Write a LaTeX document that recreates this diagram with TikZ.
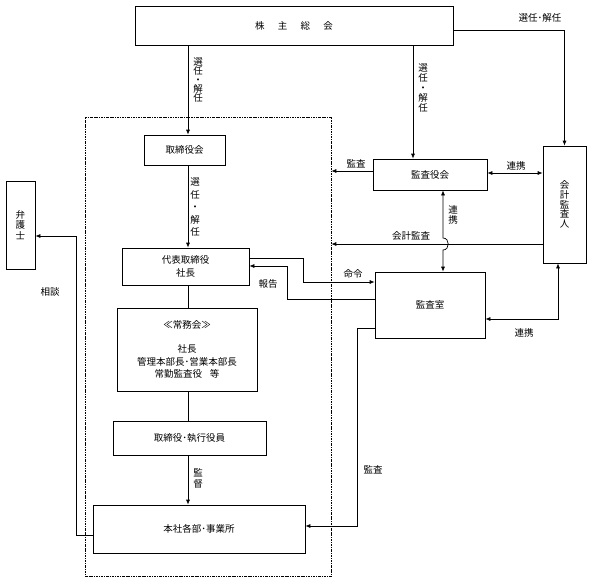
\documentclass[tikz,border=0pt]{standalone}
\usepackage{fontspec}
\setmainfont{Noto Sans CJK JP}
\usetikzlibrary{arrows.meta}

\begin{document}
\begin{tikzpicture}[x=1pt, y=-1pt,
    box/.style={draw, line width=0.7pt, align=center, inner sep=0pt, font=\fontsize{9.5}{12.5}\selectfont},
    lbl/.style={inner sep=0pt, font=\fontsize{9.5}{12}\selectfont},
    vlbl/.style={align=center, inner sep=0pt, font=\fontsize{9.5}{10}\selectfont},
    ln/.style={line width=0.7pt},
    arr/.style={ln, -{Latex[length=5pt,width=4pt]}},
    darr/.style={ln, {Latex[length=5pt,width=4pt]}-{Latex[length=5pt,width=4pt]}},
    frame/.style={draw, line width=0.6pt, dash pattern=on 2.5pt off 1pt on 0.8pt off 1pt}]
  \useasboundingbox (0,0) rectangle (591,582);

  % boxes
  \node[box, minimum width=318, minimum height=39] (soukai) at (294,25.5) {株\hspace{1.4em}主\hspace{1.4em}総\hspace{1.4em}会};
  \node[frame, minimum width=246, minimum height=459] (waku) at (208,346.5) {};
  \node[box, minimum width=81, minimum height=30] (torikai) at (184.5,150) {取締役会};
  \node[box, minimum width=127, minimum height=37] (daihyo) at (185.5,266.5) {代表取締役\\社長};
  \node[box, minimum width=140, minimum height=83] (jomu) at (187,349.5) {≪常務会≫\\[11.5pt]社長\\管理本部長･営業本部長\\常勤監査役\hspace{0.8em}等};
  \node[box, minimum width=153, minimum height=34] (shikko) at (189.5,438) {取締役･執行役員};
  \node[box, minimum width=212, minimum height=48] (honsha) at (199,529) {本社各部･事業所};
  \node[box, minimum width=29, minimum height=88, font=\fontsize{9.5}{10.5}\selectfont] (bengo) at (20.5,225) {弁\\護\\士};
  \node[box, minimum width=114, minimum height=31] (kansayaku) at (430,174.5) {監査役会};
  \node[box, minimum width=43, minimum height=117, font=\fontsize{9.5}{9.8}\selectfont] (kaikei) at (564.5,204.5) {会\\計\\監\\査\\人};
  \node[box, minimum width=110, minimum height=66] (shitsu) at (430,305) {監査室};

  % bend points
  \coordinate (xl) at (188,0);
  \coordinate (xm) at (413,0);
  \coordinate (xk) at (443,0);
  \coordinate (xc) at (558,0);
  \coordinate (hop1) at (443,238);
  \coordinate (hop2) at (443,250);
  \coordinate (sd) at (76,236);
  \coordinate (mr) at (303,282);
  \coordinate (hk) at (287,266);
  \coordinate (ks) at (357,526);

  % connectors
  \draw[arr] (soukai.south -| xl) -- (torikai.north -| xl);
  \draw[arr] (soukai.south -| xm) -- (kansayaku.north -| xm);
  \draw[arr] ([yshift=-4.5pt]soukai.east) -| (kaikei.north);
  \draw[arr] (torikai.south -| xl) -- (daihyo.north -| xl);
  \draw[ln] (daihyo.south -| xl) -- (jomu.north -| xl);
  \draw[ln] (jomu.south -| xl) -- (shikko.north -| xl);
  \draw[arr] (shikko.south -| xl) -- (honsha.north -| xl);
  \draw[arr] ([yshift=-6pt]honsha.west) -| (sd) -- (sd -| bengo.east);
  \draw[arr] ([yshift=3.5pt]kansayaku.west) -- ([yshift=3.5pt]kansayaku.west -| waku.east);
  \draw[darr] ([yshift=1.5pt]kansayaku.east) -- ([yshift=1.5pt]kansayaku.east -| kaikei.west);
  \draw[arr] ([yshift=-39.5pt]kaikei.west) -- ([yshift=-39.5pt]kaikei.west -| waku.east);
  \draw[darr] (kansayaku.south -| xk) -- (hop1) .. controls +(7,0) and +(7,0) .. (hop2) -- (shitsu.north -| xk);
  \draw[arr] ([yshift=8.5pt]daihyo.east) -| (mr) -- (mr -| shitsu.west);
  \draw[arr] ([yshift=6pt]shitsu.west) -| (hk) -- (hk -| daihyo.east);
  \draw[darr] ([yshift=-14pt]shitsu.east) -| (kaikei.south -| xc);
  \draw[arr] ([yshift=-23pt]shitsu.west) -| (ks) -- (ks -| honsha.east);

  % labels
  \node[lbl] (l1) at (540,18) {選任･解任};
  \node[vlbl, font=\fontsize{9.5}{9}\selectfont] (l2) at (198,80) {選\\任\\・\\解\\任};
  \node[vlbl] (l3) at (423,88) {選\\任\\・\\解\\任};
  \node[vlbl, font=\fontsize{9.5}{12.5}\selectfont] (l4) at (195,207) {選\\任\\・\\解\\任};
  \node[vlbl, font=\fontsize{9.5}{11}\selectfont] (l5) at (198,478) {監\\督};
  \node[lbl] (l6) at (50,292) {相談};
  \node[lbl] (l7) at (356,164) {監査};
  \node[lbl] (l8) at (516,166) {連携};
  \node[lbl] (l9) at (411,236) {会計監査};
  \node[vlbl] (l10) at (453,215) {連\\携};
  \node[lbl] (l11) at (353,274) {命令};
  \node[lbl] (l12) at (268,284) {報告};
  \node[lbl] (l13) at (524,333) {連携};
  \node[lbl] (l14) at (373,470) {監査};
\end{tikzpicture}
\end{document}
